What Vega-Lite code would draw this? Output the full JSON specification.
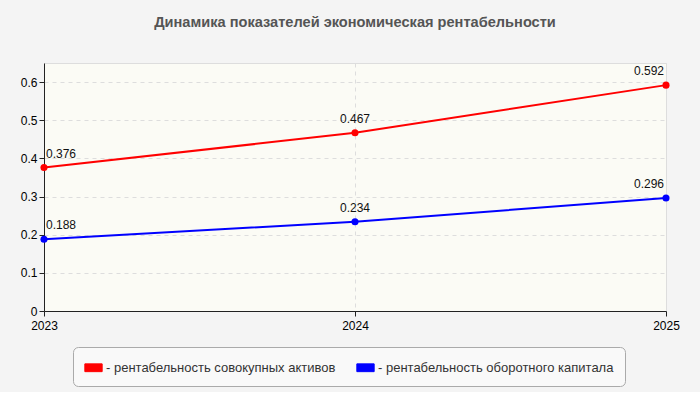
{
  "$schema": "https://vega.github.io/schema/vega-lite/v6.json",
  "width": 622,
  "height": 248,
  "padding": {"left": 20, "top": 15, "right": 21, "bottom": 5},
  "background": "#f4f4f4",
  "title": {
    "text": "Динамика показателей экономическая рентабельности",
    "font": "Liberation Sans",
    "fontSize": 14.6,
    "fontWeight": "bold",
    "color": "#555555",
    "anchor": "middle",
    "offset": 33
  },
  "data": {
    "values": [
      {"year": "2023", "value": 0.376, "series": "- рентабельность совокупных активов"},
      {"year": "2024", "value": 0.467, "series": "- рентабельность совокупных активов"},
      {"year": "2025", "value": 0.592, "series": "- рентабельность совокупных активов"},
      {"year": "2023", "value": 0.188, "series": "- рентабельность оборотного капитала"},
      {"year": "2024", "value": 0.234, "series": "- рентабельность оборотного капитала"},
      {"year": "2025", "value": 0.296, "series": "- рентабельность оборотного капитала"}
    ]
  },
  "encoding": {
    "x": {
      "field": "year",
      "type": "ordinal",
      "scale": {"type": "point", "padding": 0},
      "axis": {
        "title": null,
        "labelAngle": 0,
        "grid": true,
        "gridColor": "#dddddd",
        "gridDash": [4, 4],
        "domainColor": "#222222",
        "tickColor": "#222222",
        "labelFont": "Liberation Sans",
        "labelFontSize": 12,
        "labelColor": "#000000",
        "labelPadding": 4,
        "labelOverlap": false
      }
    },
    "y": {
      "field": "value",
      "type": "quantitative",
      "scale": {"domain": [0, 0.65], "nice": false},
      "axis": {
        "values": [0, 0.1, 0.2, 0.3, 0.4, 0.5, 0.6],
        "format": ".1~f",
        "title": null,
        "grid": true,
        "gridColor": "#dddddd",
        "gridDash": [4, 4],
        "domainColor": "#222222",
        "tickColor": "#222222",
        "labelFont": "Liberation Sans",
        "labelFontSize": 12,
        "labelColor": "#000000",
        "labelPadding": 2,
        "labelOverlap": false
      }
    }
  },
  "layer": [
    {
      "mark": {"type": "line", "strokeWidth": 2},
      "encoding": {
        "color": {
          "field": "series",
          "type": "nominal",
          "sort": ["- рентабельность совокупных активов", "- рентабельность оборотного капитала"],
          "scale": {"range": ["#ff0000", "#0000ff"]},
          "legend": {
            "title": null,
            "orient": "none",
            "legendX": 29,
            "legendY": 284,
            "direction": "horizontal",
            "symbolType": "M-1,-0.45L1,-0.45L1,0.45L-1,0.45Z",
            "symbolSize": 300,
            "symbolStrokeWidth": 1,
            "labelFont": "Liberation Sans",
            "labelFontSize": 13,
            "labelColor": "#333333",
            "labelOffset": 3,
            "labelLimit": 0,
            "columnPadding": 18,
            "fillColor": "#f9f9f9",
            "strokeColor": "#aaaaaa",
            "cornerRadius": 5,
            "padding": 11
          }
        }
      }
    },
    {
      "mark": {"type": "point", "filled": true, "size": 50, "opacity": 1},
      "encoding": {
        "color": {
          "field": "series",
          "type": "nominal",
          "sort": ["- рентабельность совокупных активов", "- рентабельность оборотного капитала"]
        }
      }
    },
    {
      "transform": [{"filter": "datum.year == '2023'"}],
      "mark": {"type": "text", "align": "left", "baseline": "bottom", "dx": 2, "dy": -7, "font": "Liberation Sans", "fontSize": 12, "color": "#111111"},
      "encoding": {"text": {"field": "value", "type": "quantitative", "format": ".3f"}}
    },
    {
      "transform": [{"filter": "datum.year == '2024'"}],
      "mark": {"type": "text", "align": "center", "baseline": "bottom", "dy": -7, "font": "Liberation Sans", "fontSize": 12, "color": "#111111"},
      "encoding": {"text": {"field": "value", "type": "quantitative", "format": ".3f"}}
    },
    {
      "transform": [{"filter": "datum.year == '2025'"}],
      "mark": {"type": "text", "align": "right", "baseline": "bottom", "dx": -2, "dy": -7, "font": "Liberation Sans", "fontSize": 12, "color": "#111111"},
      "encoding": {"text": {"field": "value", "type": "quantitative", "format": ".3f"}}
    }
  ],
  "config": {
    "view": {"fill": "#fbfbf5", "stroke": "#dddddd"}
  }
}
